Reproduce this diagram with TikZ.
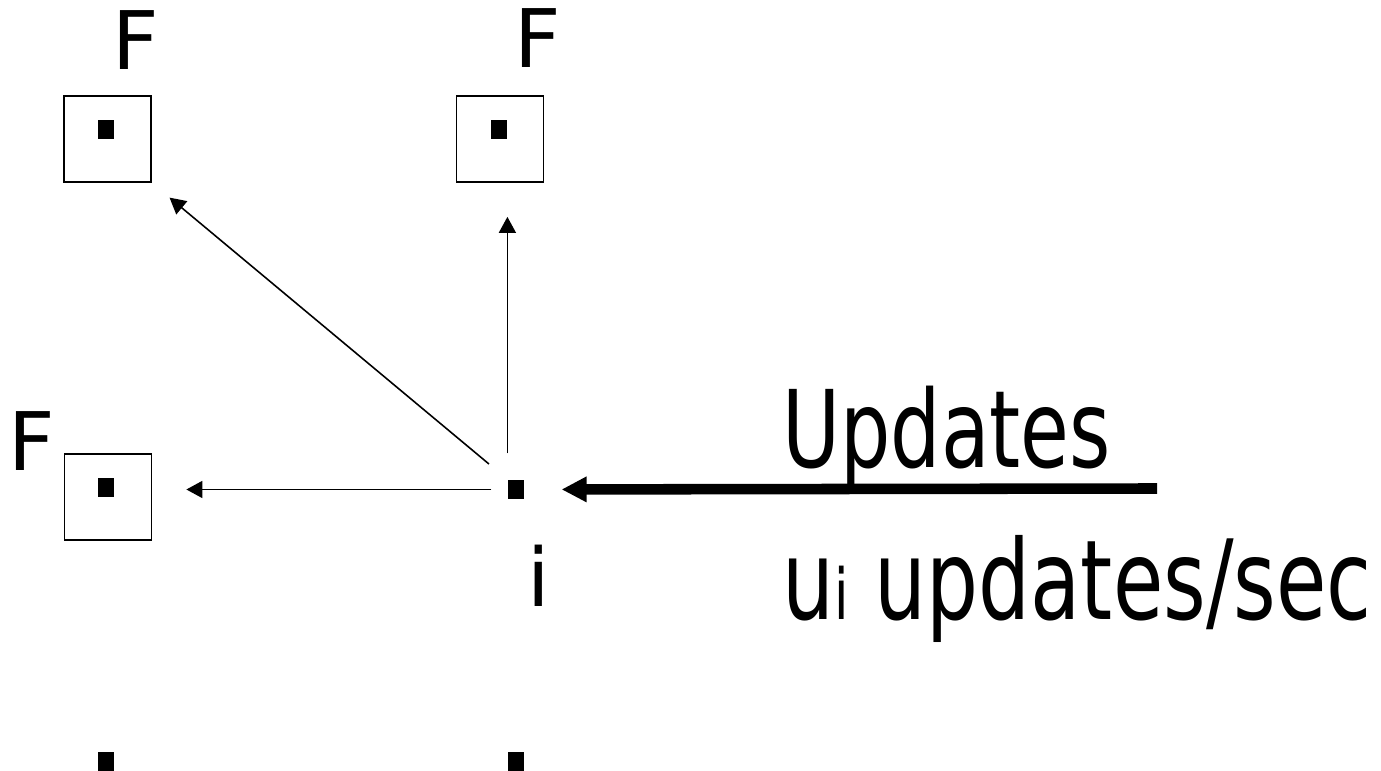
\documentclass[tikz,border=0pt]{standalone}
\usepackage{fontspec}
\setmainfont{DejaVu Sans}
\newfontfamily\ratefont{DejaVu Sans}[FakeStretch=0.74]
\usepackage{tikz}
\usetikzlibrary{arrows.meta, positioning}
\tikzset{
    fbox/.style={rectangle, draw, line width=1pt, minimum width=1.74cm, minimum height=1.72cm, inner sep=0pt},
    fdot/.style={rectangle, fill=black, minimum width=0.33cm, minimum height=0.39cm, inner sep=0pt},
    ftext/.style={inner sep=0pt, anchor=base west, font=\fontsize{46}{55}\selectfont},
    ratetext/.style={inner sep=0pt, anchor=base west, font=\ratefont\fontsize{61}{73}\selectfont},
    fanout/.style={line width=0.9pt, -{Triangle[length=0.32cm, width=0.34cm]}},
    feed/.style={line width=6pt, -{Triangle[length=0.5cm, width=0.48cm]}}
}

\begin{document}
\begin{tikzpicture}
    \useasboundingbox (0,0) rectangle (27.62,15.42);

    % forwarders
    \node[fbox] (f1) at (2.15,12.64) {};
    \node[fbox] (f2) at (10.00,12.64) {};
    \node[fbox] (f3) at (2.16,5.48) {};
    \node[fdot] (d1) at (2.12,12.83) {};
    \node[fdot] (d2) at (9.98,12.83) {};
    \node[fdot] (d3) at (2.12,5.67) {};
    \node[ftext] (l1) at (2.24,14.02) {F};
    \node[ftext] (l2) at (10.28,14.06) {F};
    \node[ftext] (l3) at (0.16,6.00) {F};

    % node i and the rows below
    \node[fdot] (i) at (10.32,5.63) {};
    \node[ftext] (li) at (10.54,3.28) {i};
    \node[fdot] (b1) at (2.12,0.19) {};
    \node[fdot] (b2) at (10.32,0.19) {};

    % incoming updates
    \coordinate (src) at (23.14,5.65);
    \node[ratetext] (upd) at (15.64,6.06) {Updates};
    \node[ratetext, font=\ratefont\fontsize{63}{75}\selectfont] (rate) at (15.64,3.02) {u{\fontsize{40}{48}\selectfont i} updates/sec};

    \draw[feed, shorten >=0.74cm] (src) -- (i.east);
    \draw[fanout, shorten <=0.32cm, shorten >=0.68cm] (i.west) -- (i.west -| f3.east);
    \draw[fanout, shorten <=0.52cm, shorten >=0.68cm] (i.north west) -- (i.north west |- f2.south);
    \draw[fanout, shorten <=0.48cm, shorten >=0.46cm] (i.north west) -- (f1.south east);
\end{tikzpicture}
\end{document}
